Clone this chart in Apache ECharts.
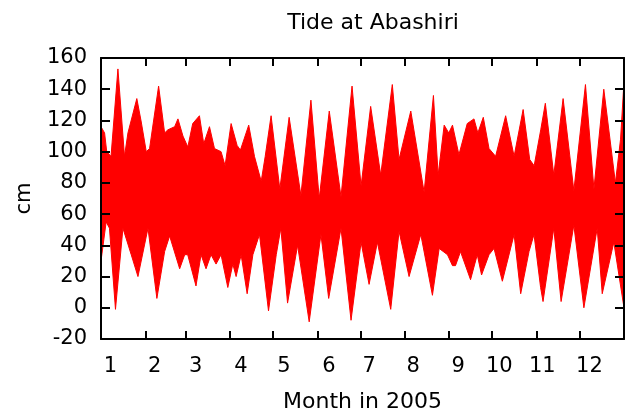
<!DOCTYPE html>
<html>
<head>
<meta charset="utf-8">
<script src="https://cdn.jsdelivr.net/npm/echarts@6/dist/echarts.min.js"></script>
<style>
  html, body { margin: 0; padding: 0; background: #fff; }
  #chart { width: 630px; height: 414px; }
</style>
</head>
<body>
<div id="chart"></div>
<script>
// upper / lower envelope of the hourly tide record (day of year, cm)
const upDays = [0, 2.5, 4, 7, 11.8, 16.4, 18.8, 25, 28.1, 31.6, 33.9, 40.2, 44.4, 46.7, 51.4, 53.7, 57.2, 60.6, 64, 68.7,
  71.7, 75.7, 79.2, 83.8, 86.6, 90.8, 95, 97.3, 103.1, 107.1, 111.8, 114.6, 118.7, 124.8, 131.3, 139.5, 146.5, 152.3,
  159.3, 167.5, 175.2, 181.5, 188.2, 195.2, 203.3, 208, 216.2, 225.5, 232, 235.3, 239.5, 242.7, 245.3, 249.8, 255.6,
  260.3, 263, 266.8, 270.8, 275.4, 282.4, 288.3, 294.6, 299.2, 302.3, 306.9, 310.1, 316, 322.5, 330, 338.1, 344,
  350.9, 359, 362.6, 365];
const upVals = [116, 112, 100, 97, 153, 97, 112, 134, 119, 100, 102, 142, 112, 114, 116, 121, 110, 103, 118, 123,
  105, 116, 102, 100, 91, 118, 104, 101, 117, 97, 81, 97, 123, 76, 122, 72, 133, 70,
  126, 71, 142, 78, 129, 85, 143, 95, 126, 74, 136, 85, 117, 112, 117, 98, 118,
  121, 112, 122, 102, 97, 123, 97, 127, 95, 91, 114, 131, 85, 134, 75, 143, 76,
  140, 80, 108, 145];

const lowDays = [0, 3.6, 5.9, 10.1, 15.3, 21.1, 25.8, 32.8, 39, 44.4, 47.9, 54.9, 58.4, 60.5, 66.3, 69.8, 73.3, 76.8,
  80.3, 83.8, 88.5, 92, 94.3, 97.8, 102, 106, 110.6, 116.9, 122.3, 125.5, 130.2, 137.2, 145.3, 153.5, 158.9, 167.5,
  174.5, 181.5, 187.1, 192.9, 202.2, 208, 215, 223.2, 231.3, 236, 241.8, 245.3, 247.4, 250.9, 257.9, 262.6, 265.6,
  270.8, 274.3, 280.1, 288.3, 292.9, 298.7, 302.2, 306.8, 308.5, 316, 321.1, 330, 337, 346.3, 349.8, 357.9, 365];
const lowVals = [30, 55, 51, -1, 51, 34, 20, 51, 6, 36, 46, 25, 34, 34, 14, 34, 25, 34,
  28, 34, 13, 28, 20, 34, 9, 34, 47, -2, 34, 51, 3, 40, -9, 47, 6, 51,
  -8, 42, 15, 42, -1, 49, 20, 47, 8, 38, 34, 27, 27, 36, 18, 34, 21,
  34, 38, 17, 47, 9, 36, 47, 13, 4, 51, 4, 53, 0, 51, 9, 42, 0];

const monthStarts = [0, 31, 59, 90, 120, 151, 181, 212, 243, 273, 304, 334, 365];
const monthLabelDays = [6.6, 37.4, 66.1, 97.6, 127.6, 159.1, 187.1, 217.8, 249.3, 278, 308, 340.9];
const monthNames = ['1', '2', '3', '4', '5', '6', '7', '8', '9', '10', '11', '12'];

const FONT = 'DejaVu Sans';
const chart = echarts.init(document.getElementById('chart'), null, { renderer: 'canvas' });

const frame = { show: true, onZero: false, lineStyle: { color: '#000', width: 2 } };
const tick = (len) => ({ show: true, inside: true, length: len, lineStyle: { color: '#000', width: 2 } });

chart.setOption({
  animation: false,
  backgroundColor: '#fff',
  title: {
    text: 'Tide at Abashiri',
    left: 368, top: 7, textAlign: 'center',
    textStyle: { fontFamily: FONT, fontSize: 22, fontWeight: 'normal', color: '#000' }
  },
  grid: { left: 101, right: 6, top: 58, bottom: 75, outerBoundsMode: 'none', containLabel: false },
  xAxis: [{
    type: 'value', min: 0, max: 365, z: 10,
    name: 'Month in 2005', nameLocation: 'middle', nameGap: 52,
    nameTextStyle: { fontFamily: FONT, fontSize: 22, color: '#000' },
    axisLine: frame, splitLine: { show: false },
    axisTick: Object.assign(tick(8), { customValues: monthStarts }),
    axisLabel: {
      customValues: monthLabelDays, margin: 17,
      fontFamily: FONT, fontSize: 21, color: '#000',
      formatter: (v) => monthNames[monthLabelDays.indexOf(v)]
    }
  }, {
    type: 'value', position: 'top', min: 0, max: 365, z: 10,
    axisLine: frame, splitLine: { show: false },
    axisTick: Object.assign(tick(8), { customValues: monthStarts }),
    axisLabel: { show: false }
  }],
  yAxis: [{
    type: 'value', min: -20, max: 160, interval: 20, z: 10,
    name: 'cm', nameLocation: 'middle', nameGap: 66,
    nameTextStyle: { fontFamily: FONT, fontSize: 21, color: '#000' },
    axisLine: frame, splitLine: { show: false },
    axisTick: tick(9),
    axisLabel: { margin: 14, fontFamily: FONT, fontSize: 21, color: '#000' }
  }, {
    type: 'value', position: 'right', min: -20, max: 160, interval: 20, z: 10,
    axisLine: frame, splitLine: { show: false },
    axisTick: tick(9),
    axisLabel: { show: false }
  }],
  series: [{
    name: 'high', type: 'line', symbol: 'none',
    data: upDays.map((d, i) => [d, upVals[i]]),
    lineStyle: { color: '#ff0000', width: 1 },
    areaStyle: { color: '#ff0000', opacity: 1, origin: 'start' }
  }, {
    name: 'low', type: 'line', symbol: 'none',
    data: lowDays.map((d, i) => [d, lowVals[i]]),
    lineStyle: { color: '#ff0000', width: 1 },
    areaStyle: { color: '#ffffff', opacity: 1, origin: 'start' }
  }]
});
</script>
</body>
</html>
